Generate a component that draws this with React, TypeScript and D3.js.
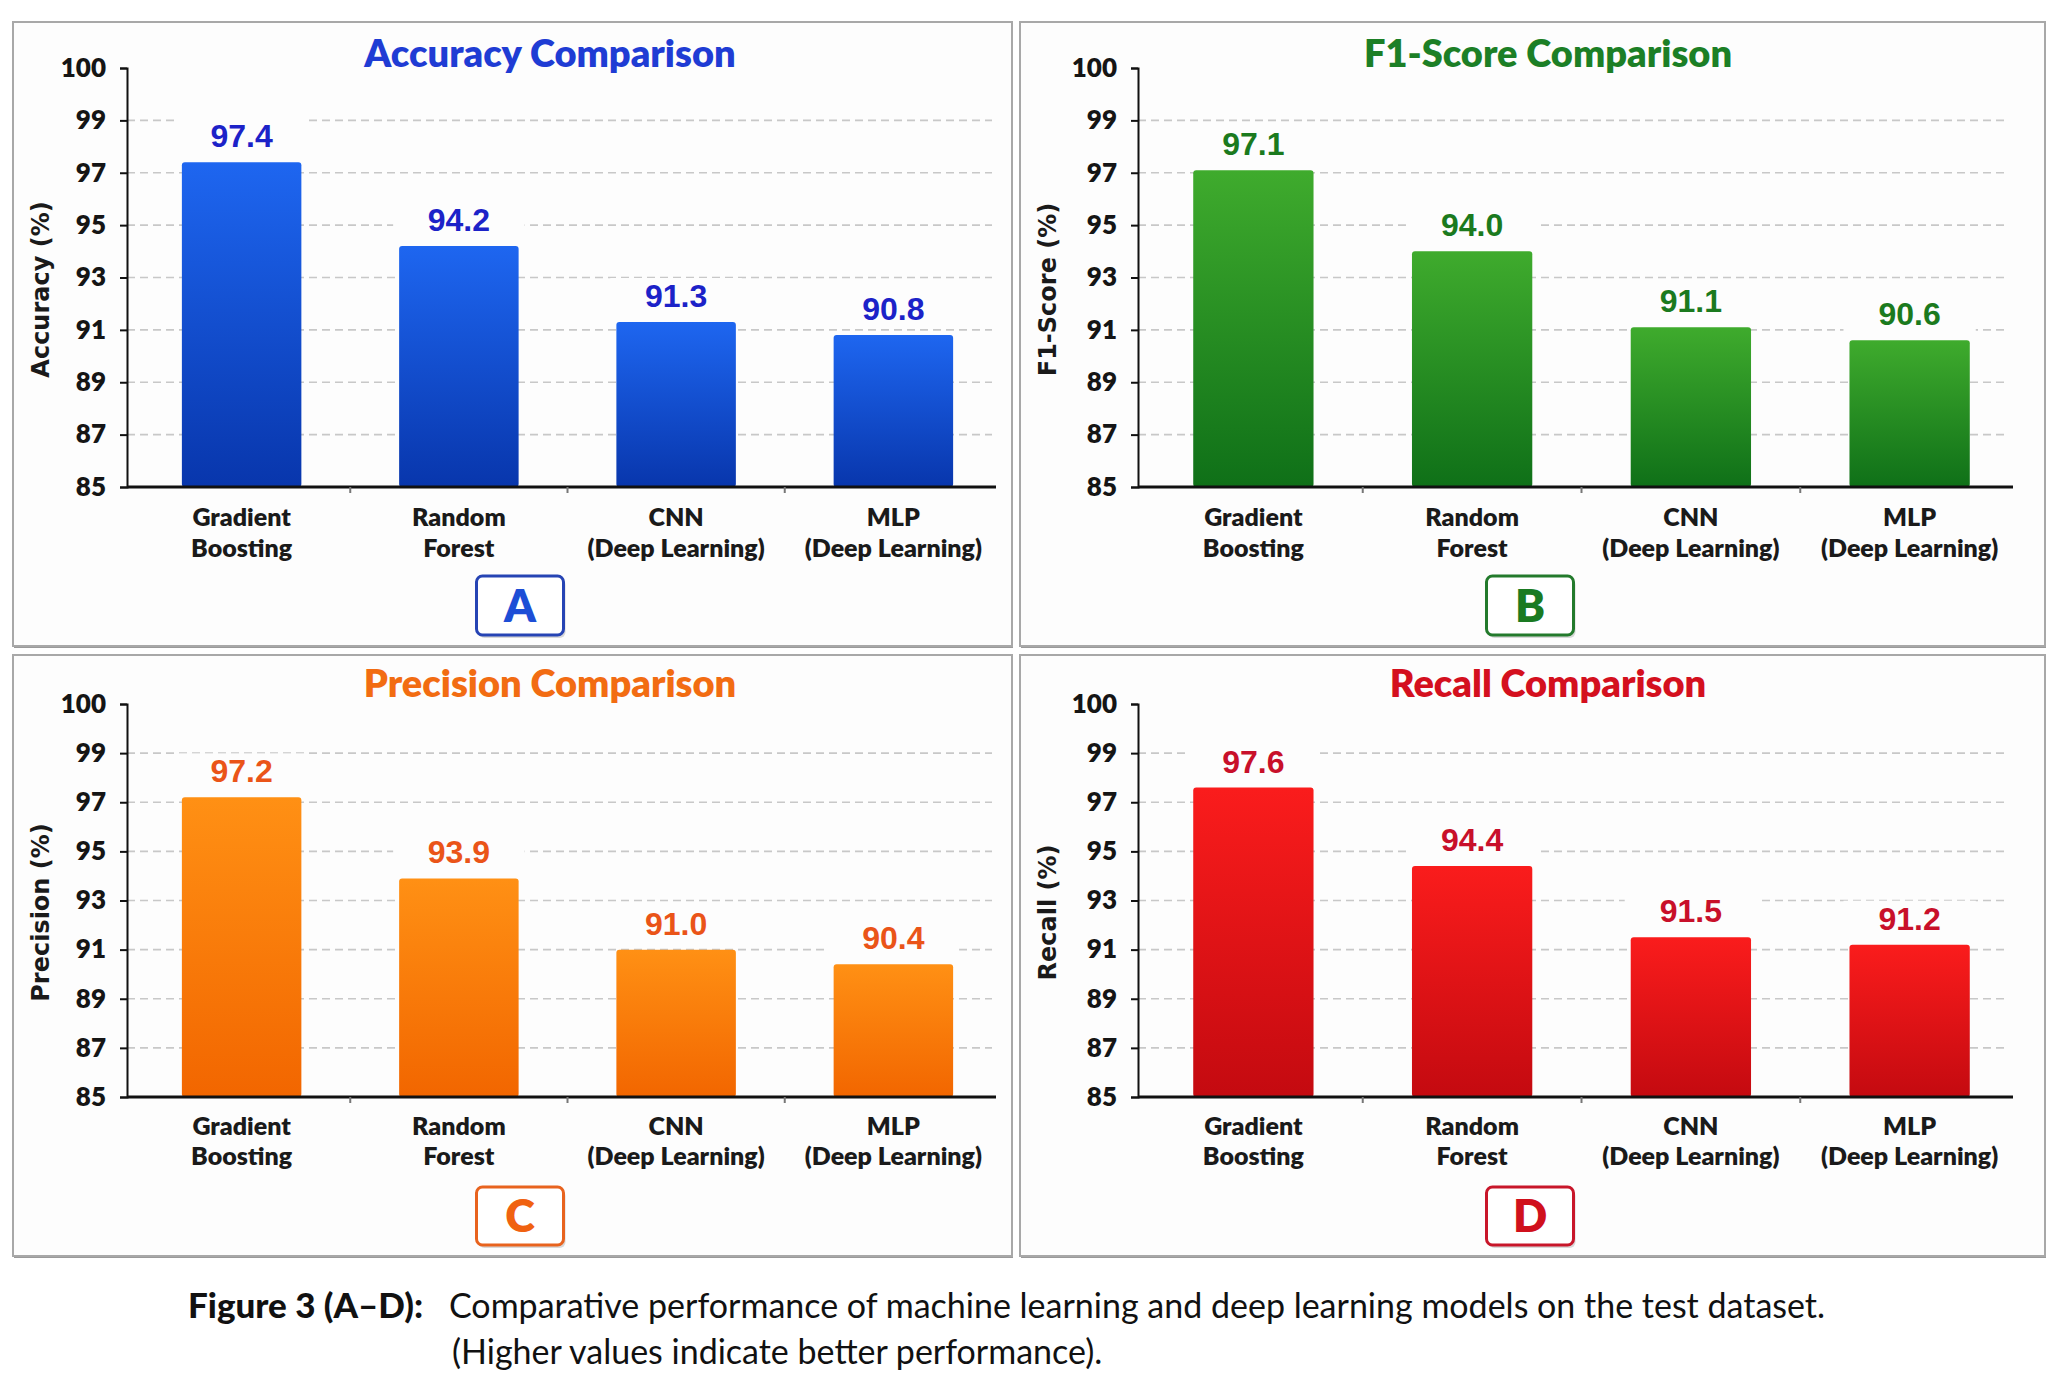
import React, { useEffect, useRef } from 'react';
import * as d3 from 'd3';

// ---- data ----
const modelLines: string[][] = [
  ['Gradient', 'Boosting'],
  ['Random', 'Forest'],
  ['CNN', '(Deep Learning)'],
  ['MLP', '(Deep Learning)'],
];
const models = modelLines.map(l => l.join(' '));

const accuracy = [97.4, 94.2, 91.3, 90.8];
const f1Score = [97.1, 94.0, 91.1, 90.6];
const precision = [97.2, 93.9, 91.0, 90.4];
const recall = [97.6, 94.4, 91.5, 91.2];

const yTicks = [85, 87, 89, 91, 93, 95, 97, 99, 100];

const panelTitles = ['Accuracy Comparison', 'F1-Score Comparison', 'Precision Comparison', 'Recall Comparison'];
const axisTitles = ['Accuracy (%)', 'F1-Score (%)', 'Precision (%)', 'Recall (%)'];
const panelLetters = ['A', 'B', 'C', 'D'];
const panelValues = [accuracy, f1Score, precision, recall];

const captionBold = 'Figure 3 (A\u2013D):';
const captionRest = 'Comparative performance of machine learning and deep learning models on the test dataset.';
const captionLine2 = '(Higher values indicate better performance).';

// ---- styling ----
const themes = [
  { top: '#1e66f0', bottom: '#0836ac', label: '#1c22c8', title: '#1f3cd4', box: '#2644b4', letter: '#1d4ed6' },
  { top: '#3fab2d', bottom: '#0f7018', label: '#1b7a1e', title: '#1c7f26', box: '#237a2c', letter: '#1a7a22' },
  { top: '#ff9014', bottom: '#f26600', label: '#ea5418', title: '#f26c12', box: '#e8631e', letter: '#f06210' },
  { top: '#fa1c1c', bottom: '#c40a10', label: '#c8102a', title: '#d4101e', box: '#c8162a', letter: '#d0101c' },
];

const W = 2066;
const H = 1398;
const FONT = 'Lato, "Open Sans", sans-serif';

const cols = [
  { panelX: 13, panelW: 999, axisX: 127, plotRight: 996, titleCx: 550, boxCx: 520, yTitleX: 40 },
  { panelX: 1020, panelW: 1025, axisX: 1138, plotRight: 2013, titleCx: 1548, boxCx: 1530, yTitleX: 1047 },
];
const rows = [
  { panelY: 22, panelH: 624, plotTop: 68, plotBottom: 487, titleY: 54, lab1: 517, lab2: 548, boxY: 576, boxH: 59 },
  { panelY: 655, panelH: 601, plotTop: 704, plotBottom: 1097, titleY: 684, lab1: 1126, lab2: 1156, boxY: 1187, boxH: 58 },
];

const App: React.FC = () => {
  const svgRef = useRef<SVGSVGElement | null>(null);

  useEffect(() => {
    if (!svgRef.current) return;
    const svg = d3.select(svgRef.current);
    svg.selectAll('*').remove();

    svg.append('rect').attr('width', W).attr('height', H).attr('fill', '#ffffff');

    const defs = svg.append('defs');
    themes.forEach((t, i) => {
      const g = defs.append('linearGradient')
        .attr('id', `barGrad${i}`)
        .attr('x1', 0).attr('y1', 0).attr('x2', 0).attr('y2', 1);
      g.append('stop').attr('offset', '0%').attr('stop-color', t.top);
      g.append('stop').attr('offset', '100%').attr('stop-color', t.bottom);
    });

    panelValues.forEach((values, i) => {
      const c = cols[i % 2];
      const r = rows[Math.floor(i / 2)];
      const t = themes[i];
      const g = svg.append('g');

      // panel frame with a soft bottom shadow
      g.append('rect')
        .attr('x', c.panelX + 1).attr('y', r.panelY + 2)
        .attr('width', c.panelW).attr('height', r.panelH)
        .attr('fill', '#9a9a9a');
      g.append('rect')
        .attr('x', c.panelX).attr('y', r.panelY)
        .attr('width', c.panelW).attr('height', r.panelH)
        .attr('fill', '#fdfdfd')
        .attr('stroke', '#a8a8a8').attr('stroke-width', 2);

      const plotH = r.plotBottom - r.plotTop;
      // ticks are evenly spaced; the top step (99 -> 100) is compressed
      const y = d3.scaleLinear()
        .domain([85, 99, 100])
        .range([r.plotBottom, r.plotTop + plotH / 8, r.plotTop]);
      const x = d3.scaleBand<string>()
        .domain(models)
        .range([c.axisX + 6, c.plotRight + 6])
        .paddingInner(0.45)
        .paddingOuter(0.225);

      // grid (no line at the top tick)
      g.append('g')
        .selectAll('line')
        .data(yTicks.filter(v => v > 85 && v < 100))
        .join('line')
        .attr('x1', c.axisX).attr('x2', c.plotRight - 4)
        .attr('y1', d => y(d)).attr('y2', d => y(d))
        .attr('stroke', '#c8c8c8')
        .attr('stroke-width', 1.6)
        .attr('stroke-dasharray', '8,5');

      // bars
      g.append('g')
        .selectAll('rect')
        .data(values)
        .join('rect')
        .attr('x', (_, j) => x(models[j])!)
        .attr('y', d => y(d))
        .attr('width', x.bandwidth())
        .attr('height', d => r.plotBottom - y(d))
        .attr('rx', 3)
        .attr('fill', `url(#barGrad${i})`);

      // value labels with a white backing so grid lines break around them
      const labels = g.append('g');
      labels.selectAll('rect')
        .data(values)
        .join('rect')
        .attr('x', (_, j) => x(models[j])! - 6)
        .attr('y', d => y(d) - 44)
        .attr('width', x.bandwidth() + 12)
        .attr('height', 36)
        .attr('fill', '#fdfdfd');
      labels.selectAll('text')
        .data(values)
        .join('text')
        .attr('x', (_, j) => x(models[j])! + x.bandwidth() / 2)
        .attr('y', d => y(d) - 15)
        .attr('text-anchor', 'middle')
        .attr('font-family', '"Liberation Sans", Arial, sans-serif')
        .attr('font-weight', 700)
        .attr('font-size', 32)
        .attr('fill', t.label)
        .text(d => d.toFixed(1));

      // y axis
      const yAxis = g.append('g')
        .attr('transform', `translate(${c.axisX},0)`)
        .call(d3.axisLeft(y).tickValues(yTicks).tickSize(7).tickPadding(14).tickFormat(d3.format('d')));
      yAxis.select('.domain').attr('stroke', '#111').attr('stroke-width', 2);
      yAxis.selectAll('.tick line').attr('stroke', '#111').attr('stroke-width', 2);
      yAxis.selectAll('.tick text')
        .attr('font-family', FONT)
        .attr('font-weight', 800)
        .attr('font-size', 26)
        .attr('fill', '#151515');

      // x axis
      const xAxis = g.append('g')
        .attr('transform', `translate(0,${r.plotBottom})`)
        .call(d3.axisBottom(x).tickSize(0).tickFormat(() => ''));
      xAxis.select('.domain').attr('d', `M${c.axisX},0H${c.plotRight}`)
        .attr('stroke', '#111').attr('stroke-width', 3);
      g.append('g')
        .selectAll('line')
        .data(models.slice(1))
        .join('line')
        .attr('x1', d => x(d)! - (x.step() - x.bandwidth()) / 2)
        .attr('x2', d => x(d)! - (x.step() - x.bandwidth()) / 2)
        .attr('y1', r.plotBottom).attr('y2', r.plotBottom + 6)
        .attr('stroke', '#777').attr('stroke-width', 2);

      // category labels
      const cat = g.append('g');
      modelLines.forEach((lines, j) => {
        lines.forEach((line, k) => {
          cat.append('text')
            .attr('x', x(models[j])! + x.bandwidth() / 2)
            .attr('y', (k === 0 ? r.lab1 : r.lab2) + 9)
            .attr('text-anchor', 'middle')
            .attr('font-family', FONT)
            .attr('font-weight', 800)
            .attr('font-size', 25)
            .attr('fill', '#1a1a1a')
            .text(line);
        });
      });

      // title
      g.append('text')
        .attr('x', c.titleCx)
        .attr('y', r.titleY + 13)
        .attr('text-anchor', 'middle')
        .attr('font-family', FONT)
        .attr('font-weight', 800)
        .attr('font-size', 38)
        .attr('fill', t.title)
        .text(panelTitles[i]);

      // y-axis title
      const yMid = (r.plotTop + r.plotBottom) / 2 + 12;
      g.append('text')
        .attr('transform', `translate(${c.yTitleX + 9},${yMid}) rotate(-90)`)
        .attr('text-anchor', 'middle')
        .attr('font-family', '"DejaVu Sans", Verdana, sans-serif')
        .attr('font-weight', 700)
        .attr('font-size', 24)
        .attr('fill', '#1a1a1a')
        .text(axisTitles[i]);

      // panel letter box
      const bw = 87;
      g.append('rect')
        .attr('x', c.boxCx - bw / 2 + 2).attr('y', r.boxY + 3)
        .attr('width', bw).attr('height', r.boxH)
        .attr('rx', 6)
        .attr('fill', '#d8d8d8');
      g.append('rect')
        .attr('x', c.boxCx - bw / 2).attr('y', r.boxY)
        .attr('width', bw).attr('height', r.boxH)
        .attr('rx', 6)
        .attr('fill', '#ffffff')
        .attr('stroke', t.box).attr('stroke-width', 3);
      g.append('text')
        .attr('x', c.boxCx)
        .attr('y', r.boxY + r.boxH / 2 + 16)
        .attr('text-anchor', 'middle')
        .attr('font-family', FONT)
        .attr('font-weight', 800)
        .attr('font-size', 45)
        .attr('fill', t.letter)
        .text(panelLetters[i]);
    });

    // caption
    const cap = svg.append('g')
      .attr('font-family', FONT)
      .attr('font-size', 34)
      .attr('fill', '#111');
    cap.append('text').attr('x', 188).attr('y', 1318)
      .attr('font-weight', 900).attr('font-size', 35).text(captionBold);
    cap.append('text').attr('x', 449).attr('y', 1318).text(captionRest);
    cap.append('text').attr('x', 452).attr('y', 1364).text(captionLine2);
  }, []);

  return (
    <svg
      ref={svgRef}
      width={W}
      height={H}
      style={{ position: 'absolute', left: 0, top: 0, display: 'block' }}
    />
  );
};

export default App;
